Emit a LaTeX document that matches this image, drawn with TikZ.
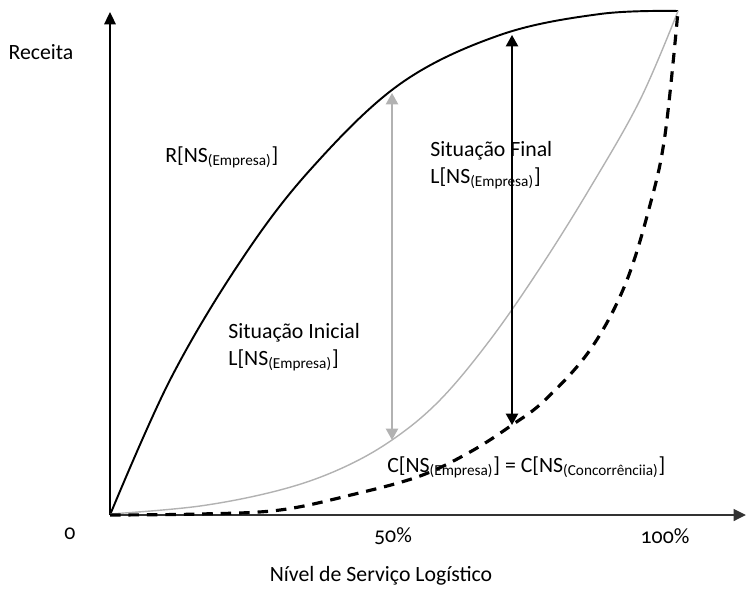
\documentclass[tikz,border=0pt]{standalone}
\usepackage{fontspec}
\setmainfont{Carlito}[Numbers=OldStyle]
\usepackage{tikz}
\usetikzlibrary{arrows.meta}

\definecolor{lgray}{RGB}{178,178,178}
\definecolor{axgray}{RGB}{51,51,51}

\begin{document}
\begin{tikzpicture}[
    x=0.02cm, y=-0.02cm,
    lbl/.style={font=\fontsize{12.4}{15}\selectfont, inner sep=0pt, align=left},
    axis/.style={line width=1.1pt, -{Triangle[length=7pt, width=6.5pt]}},
    revenue/.style={line width=1.1pt, black},
    profit/.style={line width=0.8pt, lgray},
    cost/.style={line width=1.8pt, black, dash pattern=on 6pt off 4.5pt},
    gap/.style={line width=1pt, {Triangle[length=6.5pt, width=7pt]}-{Triangle[length=6.5pt, width=7pt]}}
]
\useasboundingbox (0,0) rectangle (746,592);

% Axes
\coordinate (O) at (110,515);
\coordinate (ytip) at (110,12);
\coordinate (xtip) at (746,515);
\draw[axis] (O) -- (ytip);
\draw[axis, axgray, line width=1.6pt] (O) -- (xtip);

% Curves
\draw[revenue] plot[smooth, tension=0.6] coordinates {(110,515) (170,380) (240,262) (310,170) (400,84) (500,35) (600,14) (678,11)};
\draw[profit] plot[smooth, tension=0.6] coordinates {(110,514) (200,506) (280,490) (340,469) (392,440) (440,400) (490,340) (540,268) (590,188) (640,100) (678,11)};
\draw[cost] plot[smooth, tension=0.6] coordinates {(110,515) (200,514) (280,510) (355,494) (420,476) (470,452) (512,425) (545,400) (590,350) (625,285) (650,205) (665,135) (678,11)};

% Gaps
\coordinate (gtop) at (392,93);
\coordinate (gbot) at (392,440);
\coordinate (btop) at (512,35);
\coordinate (bbot) at (512,425);
\draw[gap, lgray] (gtop) -- (gbot);
\draw[gap] (btop) -- (bbot);

% Labels
\node[lbl] (receita) at (41,52) {Receita};
\node[lbl, anchor=base west] (rlab) at (165,162) {R[NS\textsubscript{(Empresa)}]};
\node[lbl, anchor=base west] (final) at (430,183) {Situação Final\\L[NS\textsubscript{(Empresa)}]};
\node[lbl, anchor=base west] (inicial) at (228,365) {Situação Inicial\\L[NS\textsubscript{(Empresa)}]};
\node[lbl, anchor=base west] (clab) at (387,472) {C[NS\textsubscript{(Empresa)}] = C[NS\textsubscript{(Concorrênciia)}]};
\node[lbl] (zero) at (70,534) {0};
\node[lbl] (half) at (393,536) {50\%};
\node[lbl] (full) at (665,536) {100\%};
\node[lbl] (xlab) at (381,576) {Nível de Serviço Logístico};
\end{tikzpicture}
\end{document}
